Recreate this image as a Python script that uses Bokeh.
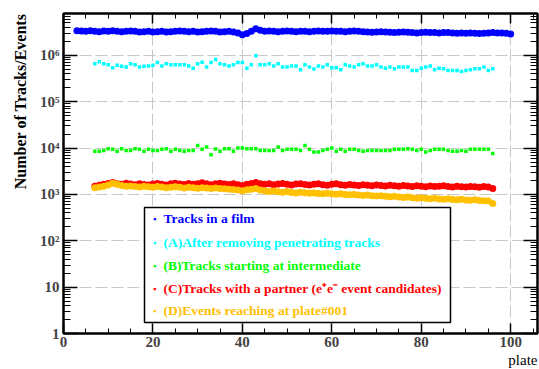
from bokeh.plotting import figure
from bokeh.models import (LinearAxis, LogAxis, FixedTicker, Label, BoxAnnotation,
                          Range1d, CustomJSTickFormatter, Title)
from bokeh.embed import file_html
from bokeh.resources import INLINE

# ---------------- data ----------------
plates_film = list(range(3, 101))
tracks_in_film = [
    3.40e6, 3.35e6, 3.30e6, 3.40e6, 3.30e6, 3.25e6, 3.35e6, 3.30e6, 3.40e6, 3.30e6,
    3.25e6, 3.30e6, 3.35e6, 3.30e6, 3.20e6, 3.25e6, 3.30e6, 3.20e6, 3.25e6, 3.30e6,
    3.20e6, 3.25e6, 3.30e6, 3.35e6, 3.30e6, 3.25e6, 3.30e6, 3.20e6, 3.25e6, 3.30e6,
    3.35e6, 3.30e6, 3.20e6, 3.25e6, 3.30e6, 3.20e6, 3.05e6, 2.80e6, 2.95e6, 3.30e6,
    3.75e6, 3.50e6, 3.30e6, 3.35e6, 3.30e6, 3.25e6, 3.30e6, 3.35e6, 3.30e6, 3.25e6,
    3.30e6, 3.30e6, 3.25e6, 3.30e6, 3.35e6, 3.30e6, 3.30e6, 3.35e6, 3.30e6, 3.30e6,
    3.25e6, 3.30e6, 3.35e6, 3.30e6, 3.25e6, 3.20e6, 3.15e6, 3.20e6, 3.25e6, 3.20e6,
    3.15e6, 3.10e6, 3.15e6, 3.20e6, 3.15e6, 3.10e6, 3.05e6, 3.10e6, 3.15e6, 3.10e6,
    3.10e6, 3.05e6, 3.10e6, 3.10e6, 3.05e6, 3.00e6, 3.05e6, 3.00e6, 3.05e6, 3.00e6,
    2.95e6, 3.00e6, 3.05e6, 3.10e6, 3.05e6, 3.05e6, 3.00e6, 2.90e6,
]

plates_sel = list(range(7, 97))
after_removing = [
    6.6e5, 7.3e5, 6.6e5, 6.3e5, 5.4e5, 6.1e5, 5.8e5, 5.6e5, 6.6e5, 6.3e5,
    5.6e5, 5.8e5, 5.9e5, 6.1e5, 7.0e5, 5.9e5, 6.6e5, 6.3e5, 6.3e5, 6.3e5,
    6.3e5, 5.9e5, 5.3e5, 6.6e5, 7.1e5, 5.6e5, 7.0e5, 8.1e5, 6.6e5, 6.3e5,
    5.9e5, 6.3e5, 7.0e5, 7.0e5, 5.3e5, 6.3e5, 9.8e5, 6.3e5, 6.3e5, 6.6e5,
    5.9e5, 6.6e5, 5.6e5, 5.6e5, 5.9e5, 5.9e5, 4.9e5, 6.3e5, 5.6e5, 5.1e5,
    5.9e5, 5.6e5, 6.3e5, 5.4e5, 5.4e5, 4.9e5, 6.3e5, 5.9e5, 5.6e5, 6.3e5,
    6.6e5, 5.9e5, 5.9e5, 6.3e5, 5.6e5, 5.3e5, 5.6e5, 5.15e5, 5.6e5, 5.6e5,
    5.6e5, 4.7e5, 4.7e5, 5.3e5, 5.6e5, 5.9e5, 4.9e5, 5.3e5, 5.15e5, 4.7e5,
    4.7e5, 4.7e5, 4.5e5, 4.7e5, 4.9e5, 5.15e5, 5.15e5, 5.6e5, 4.7e5, 5.15e5,
]
starting_intermediate = [
    8.5e3, 8.5e3, 8.9e3, 9.7e3, 9.4e3, 8.5e3, 9.7e3, 8.9e3, 8.9e3, 9.7e3,
    9.4e3, 8.5e3, 9.4e3, 8.9e3, 8.9e3, 9.4e3, 9.7e3, 8.5e3, 9.4e3, 8.9e3,
    8.5e3, 8.9e3, 8.9e3, 1.14e4, 9.4e3, 1.05e4, 7.2e3, 9.5e3, 8.5e3, 9.7e3,
    9.7e3, 8.5e3, 1.0e4, 1.0e4, 9.7e3, 9.7e3, 9.7e3, 8.9e3, 8.9e3, 8.9e3,
    8.9e3, 1.05e4, 8.9e3, 9.4e3, 9.4e3, 9.4e3, 8.9e3, 1.14e4, 9.4e3, 8.2e3,
    8.2e3, 8.9e3, 9.4e3, 1.0e4, 8.5e3, 9.4e3, 8.5e3, 9.4e3, 9.4e3, 8.9e3,
    8.5e3, 8.9e3, 8.9e3, 8.9e3, 8.9e3, 8.9e3, 8.9e3, 9.4e3, 9.4e3, 9.4e3,
    9.7e3, 9.4e3, 8.9e3, 9.4e3, 8.2e3, 8.9e3, 9.4e3, 9.4e3, 9.4e3, 8.9e3,
    8.5e3, 8.5e3, 8.9e3, 8.5e3, 9.4e3, 9.4e3, 9.4e3, 9.4e3, 9.4e3, 7.6e3,
]
with_partner = [
    1500, 1580, 1650, 1720, 1800, 1700, 1650, 1750, 1680, 1620,
    1700, 1640, 1600, 1680, 1720, 1650, 1600, 1700, 1750, 1680,
    1640, 1720, 1660, 1700, 1780, 1690, 1620, 1700, 1750, 1680,
    1640, 1700, 1620, 1550, 1650, 1720, 1800, 1700, 1650, 1700,
    1620, 1680, 1720, 1650, 1600, 1680, 1700, 1640, 1600, 1650,
    1700, 1620, 1580, 1650, 1700, 1620, 1580, 1640, 1600, 1560,
    1620, 1580, 1540, 1600, 1560, 1520, 1580, 1540, 1500, 1560,
    1520, 1480, 1540, 1500, 1460, 1520, 1480, 1500, 1540, 1480,
    1450, 1500, 1470, 1440, 1490, 1460, 1430, 1480, 1450, 1350,
]
events_reaching = [
    1400, 1450, 1500, 1600, 1750, 1650, 1550, 1500, 1520, 1480,
    1450, 1500, 1460, 1420, 1480, 1450, 1400, 1430, 1470, 1420,
    1380, 1420, 1390, 1360, 1400, 1370, 1340, 1380, 1350, 1320,
    1300, 1280, 1250, 1200, 1260, 1300, 1350, 1250, 1200, 1150,
    1180, 1140, 1120, 1150, 1100, 1080, 1110, 1090, 1060, 1080,
    1050, 1030, 1060, 1040, 1010, 1030, 1000, 980, 1000, 970,
    950, 970, 940, 920, 940, 910, 890, 910, 880, 860,
    880, 850, 830, 850, 830, 810, 830, 800, 790, 810,
    780, 770, 790, 760, 750, 770, 740, 730, 720, 640,
]

legend_labels = [
    "Tracks in a film",
    "(A)After removing penetrating tracks",
    "(B)Tracks starting at intermediate",
    "(C)Tracks with a partner (e\u207ae\u207b event candidates)",
    "(D)Events reaching at plate#001",
]
colors = ["#0000ff", "#00ffff", "#00ff00", "#ff0000", "#ffc000"]

x_major = [0, 20, 40, 60, 80, 100]
x_minor = list(range(0, 106, 5))
y_major = [1, 10, 100, 1e3, 1e4, 1e5, 1e6]
y_minor = [k * 10 ** d for d in range(0, 7) for k in range(2, 10)]

x_title = "plate"
y_title = "Number of Tracks/Events"

SERIF = "Liberation Serif"

# ---------------- figure ----------------
p = figure(width=539, height=369, y_axis_type="log",
           x_range=Range1d(0, 106), y_range=Range1d(1, 8e6),
           output_backend="svg", toolbar_location=None,
           min_border_left=63, min_border_right=2, min_border_top=13, min_border_bottom=36)
p.background_fill_color = "white"
p.border_fill_color = "white"
p.outline_line_color = "black"
p.outline_line_width = 2

xticker = FixedTicker(ticks=x_major, minor_ticks=x_minor)
yticker = FixedTicker(ticks=y_major, minor_ticks=y_minor)

sup_fmt = CustomJSTickFormatter(code="""
const e = Math.round(Math.log10(tick));
if (e == 0) return "1";
if (e == 1) return "10";
const sup = {"0":"\u2070","1":"\u00b9","2":"\u00b2","3":"\u00b3","4":"\u2074","5":"\u2075","6":"\u2076","7":"\u2077","8":"\u2078","9":"\u2079"};
return "10" + String(e).split("").map(c => sup[c]).join("");
""")

xa = p.xaxis[0]
xa.ticker = xticker
xa.major_label_text_font = SERIF
xa.major_label_text_font_style = "bold"
xa.major_label_text_font_size = "15px"
xa.major_label_standoff = 3

ya = p.yaxis[0]
ya.ticker = yticker
ya.formatter = sup_fmt
ya.major_label_text_font = SERIF
ya.major_label_text_font_style = "bold"
ya.major_label_text_font_size = "15px"
ya.major_label_standoff = 4

for ax, maj, mnr in ((xa, 10, 5), (ya, 14, 7)):
    ax.axis_line_color = "black"
    ax.axis_line_width = 2
    ax.major_tick_in = maj
    ax.major_tick_out = 0
    ax.minor_tick_in = mnr
    ax.minor_tick_out = 0
    ax.major_tick_line_width = 1.5
    ax.minor_tick_line_width = 1

top = LinearAxis(ticker=xticker, major_label_text_font_size="1px", major_label_text_color=None,
                 major_label_standoff=0,
                 major_tick_in=10, major_tick_out=0, minor_tick_in=5, minor_tick_out=0,
                 axis_line_width=2, major_tick_line_width=1.5)
right = LogAxis(ticker=yticker, major_label_text_font_size="1px", major_label_text_color=None,
                major_label_standoff=0,
                major_tick_in=14, major_tick_out=0, minor_tick_in=7, minor_tick_out=0,
                axis_line_width=2, major_tick_line_width=1.5)
p.add_layout(top, "above")
p.add_layout(right, "right")

p.xgrid.ticker = xticker
p.ygrid.ticker = yticker
for g in (p.xgrid, p.ygrid):
    g.grid_line_color = "#c8c8c8"
    g.grid_line_dash = "12 4"
    g.grid_line_width = 1
    g.minor_grid_line_color = None

# ---------------- data glyphs ----------------
p.scatter(plates_film, tracks_in_film, marker="circle", size=7, color=colors[0], line_color=None)
p.scatter(plates_sel, after_removing, marker="square", size=3.5, color=colors[1], line_color=None)
p.scatter(plates_sel, starting_intermediate, marker="square", size=3.5, color=colors[2], line_color=None)
p.scatter(plates_sel, with_partner, marker="circle", size=7, color=colors[3], line_color=None)
p.scatter(plates_sel, events_reaching, marker="circle", size=7, color=colors[4], line_color=None)

# ---------------- axis titles (ROOT style: pushed to the axis ends) ----------------
p.add_layout(Title(text=y_title, align="right", text_font=SERIF, text_font_style="bold",
                   text_font_size="16px", text_color="black", standoff=18, offset=0), "left")
p.add_layout(Title(text=x_title, align="right", text_font=SERIF, text_font_style="normal",
                   text_font_size="15px", text_color="black", standoff=0, offset=0), "below")

# ---------------- legend ----------------
box = BoxAnnotation(left=81, right=387, bottom=11, top=126,
                    left_units="screen", right_units="screen",
                    top_units="screen", bottom_units="screen",
                    fill_color="white", fill_alpha=1.0,
                    line_color="black", line_width=1.5, line_alpha=1.0)
p.add_layout(box)
row_y = [115, 91, 68, 45, 23]
for lbl, col, ry in zip(legend_labels, colors, row_y):
    p.add_layout(Label(x=91, y=ry, x_units="screen", y_units="screen", text="\u25aa",
                       text_color=col, text_font_size="9px", text_align="center",
                       text_baseline="middle"))
    p.add_layout(Label(x=100, y=ry, x_units="screen", y_units="screen", text=lbl,
                       text_color=col, text_font=SERIF, text_font_style="bold",
                       text_font_size="13.5px", text_baseline="middle"))

open("out.html", "w").write(file_html(p, INLINE))
